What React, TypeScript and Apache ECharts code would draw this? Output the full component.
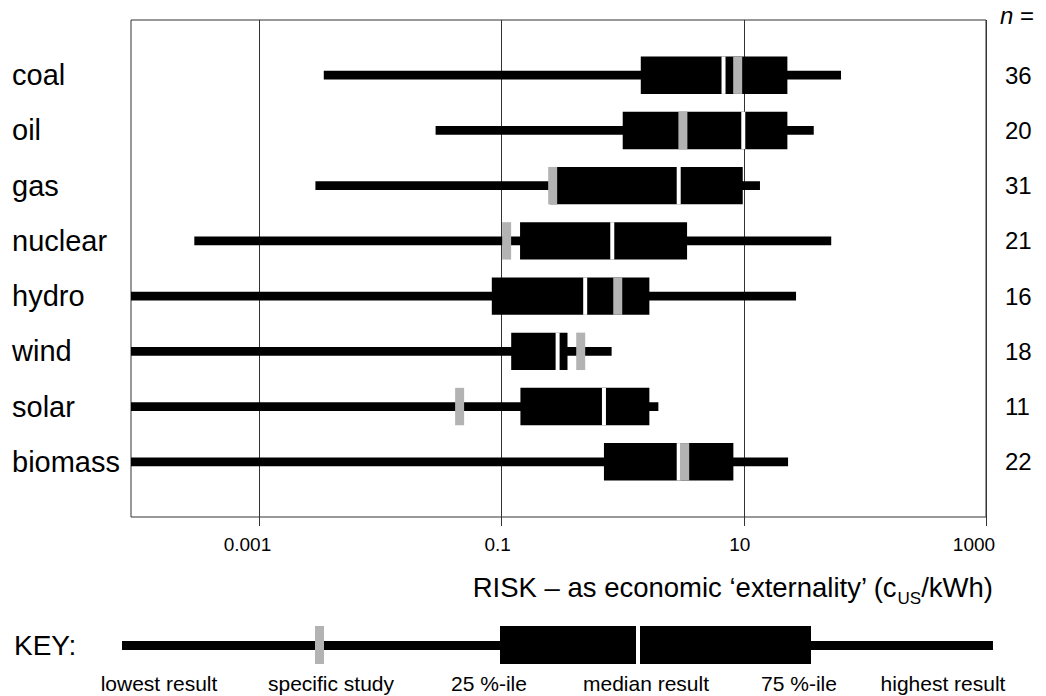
import React, { useEffect, useRef } from "react";
import * as echarts from "echarts";

const categories = ["coal", "oil", "gas", "nuclear", "hydro", "wind", "solar", "biomass"];
const lowest = [0.0034, 0.0285, 0.0029, 0.00029, 0.00005, 0.00005, 0.00005, 0.00005];
const q25 = [1.41, 1.0, 0.25, 0.142, 0.083, 0.12, 0.143, 0.7];
const median = [6.8, 9.9, 2.9, 0.82, 0.49, 0.29, 0.7, 2.9];
const q75 = [22.9, 22.9, 9.8, 3.4, 1.66, 0.35, 1.66, 8.2];
const highest = [63.5, 37.8, 13.6, 52.7, 27, 0.81, 1.97, 23.2];
const specificStudy = [8.9, 3.14, 0.264, 0.11, 0.91, 0.45, 0.045, 3.25];
const nResults = [36, 20, 31, 21, 16, 18, 11, 22];
const xTicks = [0.001, 0.1, 10, 1000];
const xTitle = "RISK – as economic ‘externality’ (c";
const xTitleSub = "US";
const xTitleEnd = "/kWh)";
const keyLabels = ["lowest result", "specific study", "25 %-ile", "median result", "75 %-ile", "highest result"];

const FONT = "'Liberation Sans', Arial, sans-serif";

export default function App() {
  const ref = useRef<HTMLDivElement>(null);
  useEffect(() => {
    const chart = echarts.init(ref.current!, null, { renderer: "svg" });
    const yCats = ["", ...categories, ""];
    const yRight = ["", ...nResults.map(String), ""];
    const data = categories.map((c, i) => [i + 1, lowest[i], q25[i], median[i], q75[i], highest[i], specificStudy[i]]);
    const BOX_H = 37.4;
    const LINE_H = 8.8;
    const option: any = {
      animation: false,
      backgroundColor: "#fff",
      title: {
        text: `${xTitle}{sub|${xTitleSub}}${xTitleEnd}`,
        right: 53,
        top: 573,
        padding: 0,
        textStyle: {
          fontFamily: FONT,
          fontSize: 27.5,
          fontWeight: "normal",
          color: "#000",
          rich: {
            sub: { fontFamily: FONT, fontSize: 17, color: "#000", verticalAlign: "top", padding: [17, 0, 0, 0], lineHeight: 18 },
          },
        },
      },
      grid: {
        left: 131,
        right: 60,
        top: 20,
        bottom: 179,
        show: true,
        borderColor: "#333",
        borderWidth: 1,
        backgroundColor: "#fff",
      },
      xAxis: {
        type: "log",
        logBase: 10,
        min: 0.000087,
        max: 1000,
        axisLine: { show: false },
        axisTick: { show: true, length: 9, lineStyle: { color: "#333" }, customValues: xTicks },
        axisLabel: {
          customValues: xTicks,
          margin: 18,
          fontFamily: FONT,
          fontSize: 19,
          color: "#000",
          formatter: (v: number) => {
            const s = v >= 1 ? String(Math.round(v)) : String(Number(v.toPrecision(3)));
            return s.length >= 4 ? `{w|${s}}` : `{n|${s}}`;
          },
          rich: {
            w: { fontFamily: FONT, fontSize: 19, color: "#000", padding: [0, 24, 0, 0] },
            n: { fontFamily: FONT, fontSize: 19, color: "#000", padding: [0, 8, 0, 0] },
          },
        },
        splitLine: { show: true, lineStyle: { color: "#333", width: 1 } },
      },
      yAxis: [
        {
          type: "category",
          data: yCats,
          boundaryGap: false,
          inverse: true,
          axisLine: { show: false },
          axisTick: { show: false },
          splitLine: { show: false },
          axisLabel: { align: "left", margin: 119, fontFamily: FONT, fontSize: 29, color: "#000", interval: 0 },
        },
        {
          type: "category",
          data: yRight,
          boundaryGap: false,
          inverse: true,
          position: "right",
          axisLine: { show: false },
          axisTick: { show: false },
          splitLine: { show: false },
          axisLabel: { align: "left", margin: 19, fontFamily: FONT, fontSize: 24, color: "#000", interval: 0 },
        },
      ],
      series: [
        {
          type: "custom",
          xAxisIndex: 0,
          yAxisIndex: 0,
          encode: { x: [1, 2, 3, 4, 5, 6], y: 0 },
          data,
          z: 5,
          renderItem: (params: any, api: any) => {
            const cat = api.value(0);
            const cs = params.coordSys;
            const left = cs.x;
            const right = cs.x + cs.width;
            const cx = (v: number) => Math.min(Math.max(api.coord([v, cat])[0], left), right);
            const y = api.coord([1, cat])[1];
            const xl = cx(api.value(1));
            const x1 = cx(api.value(2));
            const xm = cx(api.value(3));
            const x3 = cx(api.value(4));
            const xh = cx(api.value(5));
            const xs = cx(api.value(6));
            return {
              type: "group",
              children: [
                { type: "rect", shape: { x: xl, y: y - LINE_H / 2, width: xh - xl, height: LINE_H }, style: { fill: "#000" } },
                { type: "rect", shape: { x: x1, y: y - BOX_H / 2, width: x3 - x1, height: BOX_H }, style: { fill: "#000" } },
                { type: "rect", shape: { x: xm - 2, y: y - BOX_H / 2, width: 4, height: BOX_H }, style: { fill: "#fff" } },
                { type: "rect", shape: { x: xs - 4.5, y: y - BOX_H / 2, width: 9, height: BOX_H }, style: { fill: "#b3b3b3" } },
              ],
            };
          },
        },
      ],
      graphic: [
        { type: "text", left: 1000, top: 3, style: { text: "{it|n} =", fontFamily: FONT, fontSize: 24, fill: "#000", rich: { it: { fontFamily: FONT, fontSize: 24, fontStyle: "italic", fill: "#000" } } } },
        { type: "text", x: 14, y: 645, style: { text: "KEY:", fontFamily: FONT, fontSize: 28, fill: "#000", verticalAlign: "middle" } },
        { type: "rect", shape: { x: 122, y: 641, width: 871, height: 9 }, style: { fill: "#000" } },
        { type: "rect", shape: { x: 500, y: 626, width: 311, height: 38 }, style: { fill: "#000" } },
        { type: "rect", shape: { x: 636, y: 626, width: 4, height: 38 }, style: { fill: "#fff" } },
        { type: "rect", shape: { x: 315, y: 626, width: 9, height: 38 }, style: { fill: "#b3b3b3" } },
        ...keyLabels.map((t, i) => ({
          type: "text",
          x: [159, 331, 489, 646, 799, 943][i],
          y: 683,
          style: { text: t, fontFamily: FONT, fontSize: 21, fill: "#000", align: "center", verticalAlign: "middle" },
        })),
      ],
    };
    chart.setOption(option);
    return () => chart.dispose();
  }, []);
  return <div ref={ref} style={{ position: "fixed", left: 0, top: 0, width: 1046, height: 696, background: "#fff" }} />;
}
